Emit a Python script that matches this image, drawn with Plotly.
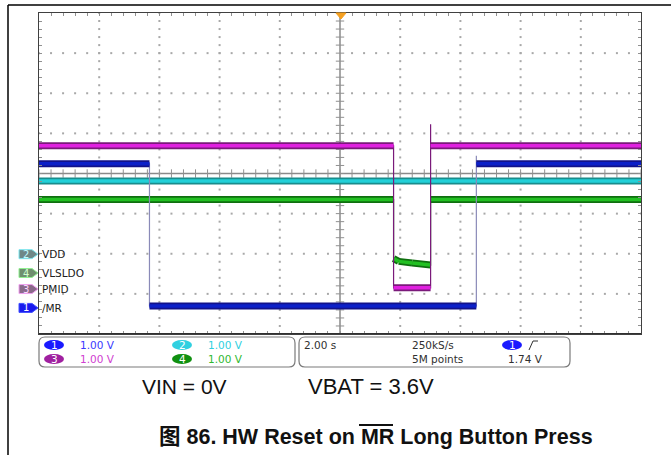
import plotly.graph_objects as go

# ---------------- data ----------------
# time axis: 2.00 s/div, 10 divisions, trigger at centre
time_range = [-10.0, 10.0]
div_range = [-4.0, 4.0]          # vertical divisions
volts_per_div = [1.00, 1.00, 1.00, 1.00]

channel_names = ["/MR", "VDD", "PMID", "VLSLDO"]
channel_numbers = ["1", "2", "3", "4"]
channel_offsets = [-3.35, -2.01, -2.88, -2.48]   # ground marker position (div)

mr_t = [-10.0, -6.33, -6.33, 4.53, 4.53, 4.53, 10.0]
mr_v = [3.59, 3.59, 0.05, 0.05, 3.79, 3.59, 3.59]

vdd_t = [-10.0, 10.0]
vdd_v = [1.82, 1.82]

pmid_t = [-10.0, 1.78, 1.78, 3.01, 3.01, 3.01, 10.0]
pmid_v = [3.57, 3.57, 0.03, 0.03, 4.11, 3.57, 3.57]

vls_t = [-10.0, 1.78, 1.78, 1.95, 2.40, 3.01, 3.01, 10.0]
vls_v = [1.83, 1.83, 0.36, 0.29, 0.25, 0.20, 1.83, 1.83]

scale_labels = ["1.00 V", "1.00 V", "1.00 V", "1.00 V"]
timebase_label = "2.00 s"
rate_label = "250kS/s"
points_label = "5M points"
trigger_level_label = "1.74 V"
caption_left = "VIN = 0V"
caption_right = "VBAT = 3.6V"
title_text = "图 86. HW Reset on MR Long Button Press"

# ---------------- styling ----------------
W, H = 671, 455
PX0, PX1, PY0, PY1 = 39, 641, 13, 334

def XP(px):
    return px / W

def YP(py):
    return 1 - py / H

band_outer = ["#12128a", "#1a8c8c", "#7a1a7a", "#0f6f0f"]
band_inner = ["#0c20c8", "#22d0d8", "#e020e0", "#22c022"]
edge_col = ["#8a8ab8", "#1a8c8c", "#7a1a7a", "#1a7a1a"]
tag_fill = ["#1a1aee", "#6f8888", "#8a6a8a", "#6f8f6f"]
tag_line = ["#4050ff", "#7fe8f0", "#f0a0f0", "#90f090"]
tag_text = ["#ffffff", "#c0fbff", "#ffd8ff", "#d0ffd0"]
oval_col = ["#1a1aff", "#30d0e0", "#a020a0", "#109010"]
scale_text_col = ["#3a3aff", "#30d0e0", "#d040d0", "#30b830"]

fig = go.Figure()

# ---------------- graticule dots ----------------
gx, gy = [], []
step_x = 2.0 / 5
step_y = 1.0 / 5
for k in range(-4, 5):
    if k == 0:
        continue
    xv = 2.0 * k
    j = 0
    while -4 + j * step_y <= 4.0001:
        gx.append(xv)
        gy.append(-4 + j * step_y)
        j += 1
for k in range(-3, 4):
    if k == 0:
        continue
    j = 0
    while -10 + j * step_x <= 10.0001:
        gx.append(-10 + j * step_x)
        gy.append(float(k))
        j += 1
fig.add_trace(go.Scatter(x=gx, y=gy, mode="markers",
                         marker=dict(symbol="square", size=2, color="#a8a8a8"),
                         hoverinfo="skip"))

# centre-line ticks
cx = []
j = 0
while -10 + j * step_x <= 10.0001:
    cx.append(-10 + j * step_x)
    j += 1
cy = []
j = 0
while -4 + j * step_y <= 4.0001:
    cy.append(-4 + j * step_y)
    j += 1
fig.add_trace(go.Scatter(x=cx, y=[0] * len(cx), mode="markers",
                         marker=dict(symbol="line-ns", size=6,
                                     line=dict(color="#909090", width=1)),
                         hoverinfo="skip"))
fig.add_trace(go.Scatter(x=[0] * len(cy), y=cy, mode="markers",
                         marker=dict(symbol="line-ew", size=6,
                                     line=dict(color="#909090", width=1)),
                         hoverinfo="skip"))

# ---------------- waveforms ----------------
series = [(mr_t, mr_v), (vdd_t, vdd_v), (pmid_t, pmid_v), (vls_t, vls_v)]
draw_order = [1, 3, 2, 0]
for ci in draw_order:
    t, v = series[ci]
    y = [vv / volts_per_div[ci] + channel_offsets[ci] for vv in v]
    fig.add_trace(go.Scatter(x=t, y=y, mode="lines",
                             line=dict(color=edge_col[ci], width=1.2),
                             hoverinfo="skip"))
    sx, sy = [], []
    for i in range(len(t) - 1):
        if t[i + 1] != t[i]:
            sx += [t[i], t[i + 1], None]
            sy += [y[i], y[i + 1], None]
    fig.add_trace(go.Scatter(x=sx, y=sy, mode="lines",
                             line=dict(color=band_outer[ci], width=7),
                             hoverinfo="skip"))
    fig.add_trace(go.Scatter(x=sx, y=sy, mode="lines",
                             line=dict(color=band_inner[ci], width=3.5),
                             hoverinfo="skip"))

shapes = []
annotations = []

# centre lines
shapes.append(dict(type="line", xref="x", yref="y", x0=time_range[0], x1=time_range[1],
                   y0=0, y1=0, line=dict(color="#8a8a8a", width=1.5), layer="below"))
shapes.append(dict(type="line", xref="x", yref="y", x0=0, x1=0,
                   y0=div_range[0], y1=div_range[1], line=dict(color="#8a8a8a", width=1.5),
                   layer="below"))
shapes.append(dict(type="line", xref="x", yref="y", x0=time_range[0], x1=time_range[1],
                   y0=div_range[0], y1=div_range[0], line=dict(color="#303030", width=2)))

# trigger position marker
shapes.append(dict(type="path", xref="paper", yref="paper",
                   path=f"M {XP(336)},{YP(13)} L {XP(346)},{YP(13)} L {XP(341)},{YP(19)} Z",
                   fillcolor="#f5a020", line=dict(color="#f5a020", width=1)))

# page frame lines
shapes.append(dict(type="line", xref="paper", yref="paper", x0=XP(8), x1=1,
                   y0=YP(5), y1=YP(5), line=dict(color="#000000", width=1.5)))
shapes.append(dict(type="line", xref="paper", yref="paper", x0=XP(8), x1=XP(8),
                   y0=YP(5), y1=0, line=dict(color="#000000", width=1.5)))

# channel ground tags + names
half = 4.5 / 40.125
for ci in range(4):
    yc = channel_offsets[ci]
    path = (f"M {XP(19)},{yc + half} L {XP(32)},{yc + half} L {XP(38)},{yc} "
            f"L {XP(32)},{yc - half} L {XP(19)},{yc - half} Z")
    shapes.append(dict(type="path", xref="paper", yref="y", path=path,
                       fillcolor=tag_fill[ci], line=dict(color=tag_line[ci], width=1)))
    annotations.append(dict(xref="paper", yref="y", x=XP(26), y=yc, text=channel_numbers[ci],
                            showarrow=False, xanchor="center", yanchor="middle",
                            font=dict(family="DejaVu Sans", size=10, color=tag_text[ci])))
    annotations.append(dict(xref="paper", yref="y", x=XP(40), y=yc, text=channel_names[ci],
                            showarrow=False, xanchor="left", yanchor="middle",
                            font=dict(family="DejaVu Sans", size=10.5, color="#202020")))

# info boxes
def rounded(x0, y0, x1, y1, r):
    return (f"M {XP(x0 + r)},{YP(y0)} L {XP(x1 - r)},{YP(y0)} "
            f"Q {XP(x1)},{YP(y0)} {XP(x1)},{YP(y0 + r)} L {XP(x1)},{YP(y1 - r)} "
            f"Q {XP(x1)},{YP(y1)} {XP(x1 - r)},{YP(y1)} L {XP(x0 + r)},{YP(y1)} "
            f"Q {XP(x0)},{YP(y1)} {XP(x0)},{YP(y1 - r)} L {XP(x0)},{YP(y0 + r)} "
            f"Q {XP(x0)},{YP(y0)} {XP(x0 + r)},{YP(y0)} Z")

shapes.append(dict(type="path", xref="paper", yref="paper", path=rounded(39, 337, 295, 367, 6),
                   line=dict(color="#7a7a7a", width=1.2)))
shapes.append(dict(type="path", xref="paper", yref="paper", path=rounded(299, 337, 570, 367, 6),
                   line=dict(color="#7a7a7a", width=1.2)))

info_font = "DejaVu Sans"
oval_pos = [(54, 345), (182, 345), (54, 359), (182, 359)]
for ci in range(4):
    ox, oy = oval_pos[ci]
    shapes.append(dict(type="circle", xref="paper", yref="paper",
                       x0=XP(ox - 10), x1=XP(ox + 10), y0=YP(oy - 5), y1=YP(oy + 5),
                       fillcolor=oval_col[ci], line=dict(color=oval_col[ci], width=0)))
    annotations.append(dict(xref="paper", yref="paper", x=XP(ox), y=YP(oy),
                            text=channel_numbers[ci], showarrow=False,
                            xanchor="center", yanchor="middle",
                            font=dict(family=info_font, size=10.5, color="#ffffff")))
    annotations.append(dict(xref="paper", yref="paper", x=XP(ox + 24), y=YP(oy),
                            text=scale_labels[ci], showarrow=False,
                            xanchor="left", yanchor="middle",
                            font=dict(family=info_font, size=10.5, color=scale_text_col[ci])))

def info_text(px, py, txt, anchor="left", color="#303030"):
    annotations.append(dict(xref="paper", yref="paper", x=XP(px), y=YP(py), text=txt,
                            showarrow=False, xanchor=anchor, yanchor="middle",
                            font=dict(family=info_font, size=10.5, color=color)))

info_text(302, 345, timebase_label)
info_text(410, 345, rate_label)
info_text(410, 359, points_label)
info_text(506, 359, trigger_level_label)
shapes.append(dict(type="circle", xref="paper", yref="paper",
                   x0=XP(502), x1=XP(522), y0=YP(340), y1=YP(350),
                   fillcolor="#1a1aff", line=dict(color="#1a1aff", width=0)))
annotations.append(dict(xref="paper", yref="paper", x=XP(512), y=YP(345), text="1",
                        showarrow=False, xanchor="center", yanchor="middle",
                        font=dict(family=info_font, size=10.5, color="#ffffff")))
shapes.append(dict(type="path", xref="paper", yref="paper",
                   path=f"M {XP(529)},{YP(350)} L {XP(533)},{YP(341)} L {XP(538)},{YP(341)}",
                   line=dict(color="#303030", width=1)))

# captions
cap_font = "Liberation Sans, Arial, Noto Sans CJK SC"
annotations.append(dict(xref="paper", yref="paper", x=XP(140), y=YP(386), text=caption_left,
                        showarrow=False, xanchor="left", yanchor="middle",
                        font=dict(family=cap_font, size=21, color="#111111")))
annotations.append(dict(xref="paper", yref="paper", x=XP(306), y=YP(386), text=caption_right,
                        showarrow=False, xanchor="left", yanchor="middle",
                        font=dict(family=cap_font, size=22, color="#111111")))
annotations.append(dict(xref="paper", yref="paper", x=XP(157), y=YP(437),
                        text="<b>" + title_text + "</b>",
                        showarrow=False, xanchor="left", yanchor="middle",
                        font=dict(family=cap_font, size=21.5, color="#111111")))
# overline over "MR"
shapes.append(dict(type="line", xref="paper", yref="paper", x0=XP(359), x1=XP(393),
                   y0=YP(425), y1=YP(425), line=dict(color="#111111", width=2)))

fig.update_layout(
    width=W, height=H,
    margin=dict(l=0, r=0, t=0, b=0),
    paper_bgcolor="#ffffff", plot_bgcolor="#ffffff",
    showlegend=False,
    shapes=shapes, annotations=annotations,
    xaxis=dict(domain=[XP(PX0), XP(PX1)], range=time_range, showgrid=False, zeroline=False,
               showline=True, mirror="ticks", linecolor="#404040", linewidth=1,
               ticks="inside", ticklen=3, tickcolor="#909090", tick0=0, dtick=0.4,
               showticklabels=False, fixedrange=True),
    yaxis=dict(domain=[YP(PY1), YP(PY0)], range=div_range, showgrid=False, zeroline=False,
               showline=True, mirror="ticks", linecolor="#404040", linewidth=1,
               ticks="inside", ticklen=3, tickcolor="#909090", tick0=0, dtick=0.2,
               showticklabels=False, fixedrange=True),
)

fig.write_html("out.html", config={"displayModeBar": False},
               post_script="document.body.style.margin='0';")
